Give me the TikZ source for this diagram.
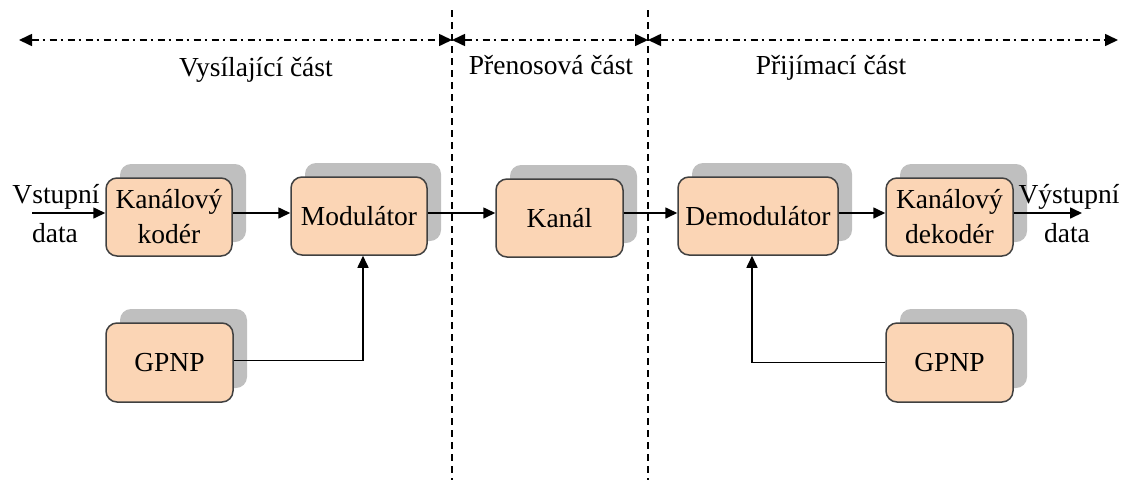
\documentclass[tikz,border=0pt]{standalone}
\usepackage{fontspec}
\setmainfont{Liberation Serif}
\usetikzlibrary{arrows.meta,shadows}
\definecolor{boxfill}{HTML}{FBD5B5}
\definecolor{boxline}{HTML}{404040}
\definecolor{shadowgray}{HTML}{BFBFBF}
\begin{document}
\begin{tikzpicture}[x=1pt,y=-1pt,
  every node/.style={font=\fontsize{27.5}{35}\selectfont},
  blockbox/.style={draw=boxline, line width=1.5pt, fill=boxfill, rounded corners=11pt,
    minimum width=127pt, minimum height=78pt, inner sep=2pt, align=center,
    general shadow={fill=shadowgray, rounded corners=11pt, draw=none, shadow xshift=14pt, shadow yshift=14pt}},
  conn/.style={line width=1.6pt, -{Triangle[length=12pt,width=11pt]}},
  conn plain/.style={line width=1.6pt},
  hdr/.style={line width=1.6pt, dash pattern=on 7pt off 4pt on 2.5pt off 4.5pt,
    {Triangle[length=13pt,width=12pt]}-{Triangle[length=13pt,width=12pt]}},
  divider/.style={line width=1.3pt, dash pattern=on 7pt off 5pt},
  lbl/.style={inner sep=0pt, anchor=base}
]
\useasboundingbox (0,0) rectangle (1127,480);

% dividers
\coordinate (d1t) at (452,10);
\coordinate (d1b) at (452,480);
\coordinate (d2t) at (648,10);
\coordinate (d2b) at (648,480);
\draw[divider] (d1t) -- (d1b);
\draw[divider] (d2t) -- (d2b);

% header arrows
\coordinate (h0) at (19,40);
\coordinate (h1) at (452,40);
\coordinate (h2) at (648,40);
\coordinate (h3) at (1118,40);
\draw[hdr] (h0) -- (h1);
\draw[hdr] (h1) -- (h2);
\draw[hdr] (h2) -- (h3);

% header labels
\node[lbl] (l1) at (256,76) {Vysílající část};
\node[lbl] (l2) at (551,74) {Přenosová část};
\node[lbl] (l3) at (831,74) {Přijímací část};

% blocks
\node[blockbox, minimum width=126pt] (enc) at (169,217) {Kanálový\\kodér};
\node[blockbox, minimum width=136pt] (mod) at (359,216) {Modulátor};
\node[blockbox] (kan) at (559.5,218) {Kanál};
\node[blockbox, minimum width=160pt] (dem) at (758,216) {Demodulátor};
\node[blockbox] (dec) at (949.5,217) {Kanálový\\dekodér};
\node[blockbox, minimum height=79pt] (gp1) at (169.5,362.5) {GPNP};
\node[blockbox, minimum height=79pt] (gp2) at (949.5,362.5) {GPNP};

% input / output labels
\node[lbl] (vin1) at (56,203) {Vstupní};
\node[lbl] (vin2) at (55,242) {data};
\node[lbl] (vout1) at (1069,203) {Výstupní};
\node[lbl] (vout2) at (1067,242) {data};

\coordinate (inpt) at (32,213);
\coordinate (outpt) at (1082,213);

% connectors
\draw[conn] (inpt) -- ([yshift=4pt]enc.west);
\draw[conn] ([yshift=4pt]enc.east) -- ([yshift=3pt]mod.west);
\draw[conn] ([yshift=3pt]mod.east) -- ([yshift=5pt]kan.west);
\draw[conn] ([yshift=5pt]kan.east) -- ([yshift=3pt]dem.west);
\draw[conn] ([yshift=3pt]dem.east) -- ([yshift=4pt]dec.west);
\draw[conn] ([yshift=4pt]dec.east) -- (outpt);
\draw[conn] ([yshift=2pt]gp1.east) -| ([xshift=4pt]mod.south);
\draw[conn] (gp2.west) -| ([xshift=-6pt]dem.south);
\end{tikzpicture}
\end{document}
